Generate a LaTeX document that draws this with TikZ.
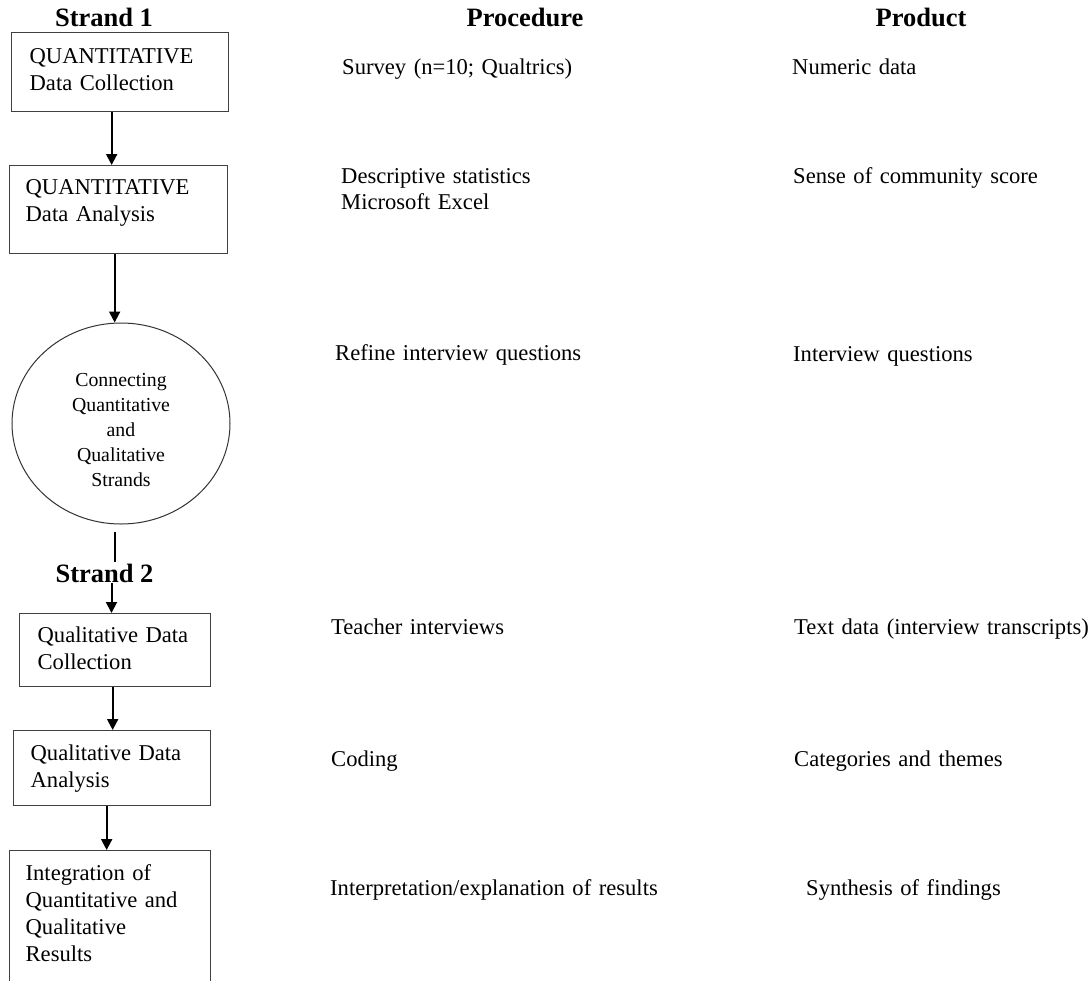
\documentclass[tikz,border=0pt]{standalone}
\usepackage{fontspec}
\setmainfont{Liberation Serif}
\usetikzlibrary{shapes.geometric, positioning, arrows.meta}
\tikzset{
->, % every connector gets a head
>={Triangle[length=11pt, width=11pt]}, % solid triangular heads
x=1pt, y=-1pt, % one unit per pixel of the layout, y running downwards
box/.style={draw=black!75, line width=1.3pt, anchor=north west, align=left, inner ysep=0pt, font=\fontsize{22.6}{27}\selectfont}, % the step boxes
head/.style={font=\bfseries\fontsize{26.5}{30}\selectfont, anchor=base, inner sep=1pt}, % column titles
entry/.style={font=\fontsize{22.6}{26}\selectfont, anchor=base west, inner sep=0pt, text width=420pt, align=left}, % procedure and product texts
every edge/.append style={line width=2pt}, % thick connectors
}

\begin{document}
\begin{tikzpicture}
    \fill[white, -] (0,0) rectangle (1091,980);
    \useasboundingbox (0,0) rectangle (1091,980);

    % titles
    \node[head] (s1) at (104,26) {Strand 1};
    \node[head] (proc) at (525,26) {Procedure};
    \node[head] (prod) at (921,26) {Product};
    \node[head] (s2) at (104.5,582) {Strand 2};

    % left column
    \node[box, inner xsep=18pt, text width=181pt, text height=31pt, text depth=48pt] (qn1) at (11,32) {QUANTITATIVE\\Data Collection};
    \node[box, inner xsep=16pt, text width=186pt, text height=29pt, text depth=59pt] (qn2) at (9,165) {QUANTITATIVE\\Data Analysis};
    \node[ellipse, draw=black!80, line width=1pt, minimum width=218pt, minimum height=201pt, text width=112pt, align=center, text height=27pt, inner sep=0pt, font=\fontsize{19.8}{25}\selectfont] (mix) at (121,423.5) {Connecting\\Quantitative\\and\\Qualitative\\Strands};
    \node[box, inner xsep=18pt, text width=155pt, text height=29pt, text depth=44pt] (ql1) at (19,613) {Qualitative Data\\Collection};
    \node[box, inner xsep=17pt, text width=163pt, text height=30pt, text depth=45pt] (ql2) at (13,730) {Qualitative Data\\Analysis};
    \node[box, inner xsep=16pt, text width=169pt, text height=29.5pt, text depth=120pt] (int) at (9,850) {Integration of\\Quantitative and\\Qualitative\\Results};

    % procedure
    \node[entry] (p1) at (342,74) {Survey (n=10; Qualtrics)};
    \node[entry] (p2) at (341,183) {Descriptive statistics\\Microsoft Excel};
    \node[entry] (p3) at (335,360) {Refine interview questions};
    \node[entry] (p4) at (331,634) {Teacher interviews};
    \node[entry] (p5) at (331,766) {Coding};
    \node[entry] (p6) at (330,895) {Interpretation/explanation of results};

    % product
    \node[entry] (r1) at (792,74) {Numeric data};
    \node[entry] (r2) at (793,183) {Sense of community score};
    \node[entry] (r3) at (793,361) {Interview questions};
    \node[entry] (r4) at (794,634) {Text data (interview transcripts)};
    \node[entry] (r5) at (794,766) {Categories and themes};
    \node[entry] (r6) at (806,895) {Synthesis of findings};

    \path
    ([xshift=-8.5pt]qn1.south) edge ([xshift=-8.5pt]qn1.south |- qn2.north)
    ([xshift=-4pt]qn2.south) edge ([xshift=-4pt]qn2.south |- mix.north)
    ([xshift=-6pt, yshift=-7pt]mix.south) edge[-] ([xshift=-6pt]mix.south |- s2.north)
    ([xshift=7pt]s2.south) edge ([xshift=7pt]s2.south |- ql1.north)
    ([xshift=-2.5pt]ql1.south) edge ([xshift=-2.5pt]ql1.south |- ql2.north)
    ([xshift=-5.5pt]ql2.south) edge ([xshift=-5.5pt]ql2.south |- int.north);
\end{tikzpicture}
\end{document}
